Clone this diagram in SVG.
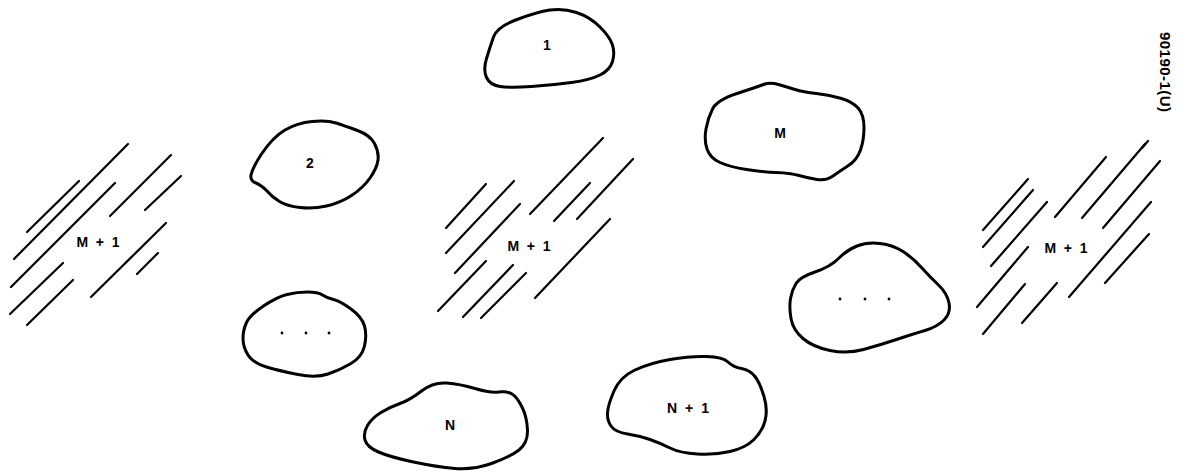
<svg xmlns="http://www.w3.org/2000/svg" width="1183" height="475" viewBox="0 0 1183 475">
<style>
.blob{fill:none;stroke:#000;stroke-width:3;stroke-linejoin:round}
.hatch line{stroke:#000;stroke-width:2.2;stroke-linecap:round}
.lbl{font-family:"Liberation Sans",Arial,sans-serif;font-weight:bold;font-size:14px;fill:#000;text-anchor:middle}
.dot{fill:#000}
</style>
<rect width="1183" height="475" fill="#fff"/>
<g id="region-left">
<g class="hatch">
<line x1="128" y1="144" x2="14" y2="259"/>
<line x1="79" y1="181" x2="27" y2="232"/>
<line x1="115" y1="183" x2="11" y2="287"/>
<line x1="171" y1="155" x2="110" y2="216"/>
<line x1="181" y1="176" x2="145" y2="210"/>
<line x1="166" y1="223" x2="91" y2="297"/>
<line x1="63" y1="263" x2="10" y2="314"/>
<line x1="73" y1="280" x2="27" y2="325"/>
<line x1="158" y1="253" x2="137" y2="274"/>
</g>
<text class="lbl" x="98" y="247" textLength="43" lengthAdjust="spacing">M + 1</text>
</g>
<g id="region-middle">
<g class="hatch">
<line x1="486" y1="184" x2="446" y2="228"/>
<line x1="514" y1="181" x2="446" y2="253"/>
<line x1="520" y1="204" x2="455" y2="273"/>
<line x1="603" y1="138" x2="530" y2="214"/>
<line x1="590" y1="183" x2="554" y2="221"/>
<line x1="633" y1="159" x2="577" y2="219"/>
<line x1="486" y1="261" x2="438" y2="311"/>
<line x1="513" y1="265" x2="463" y2="317"/>
<line x1="526" y1="273" x2="481" y2="318"/>
<line x1="610" y1="219" x2="535" y2="298"/>
</g>
<text class="lbl" x="529" y="251" textLength="43" lengthAdjust="spacing">M + 1</text>
</g>
<g id="region-right">
<g class="hatch">
<line x1="1028" y1="179" x2="983" y2="230"/>
<line x1="1033" y1="190" x2="983" y2="247"/>
<line x1="1047" y1="202" x2="991" y2="266"/>
<line x1="1106" y1="157" x2="1055" y2="217"/>
<line x1="1145" y1="144" x2="1082" y2="218"/>
<line x1="1160" y1="161" x2="1103" y2="228"/>
<line x1="1151" y1="202" x2="1069" y2="297"/>
<line x1="1149" y1="234" x2="1105" y2="283"/>
<line x1="1028" y1="247" x2="977" y2="307"/>
<line x1="1025" y1="284" x2="983" y2="334"/>
<line x1="1057" y1="283" x2="1022" y2="323"/>
<line x1="1142" y1="148" x2="1148" y2="141"/>
</g>
<text class="lbl" x="1066" y="253" textLength="43" lengthAdjust="spacing">M + 1</text>
</g>
<g id="node-1">
<path class="blob" d="M493.5,37 Q497,27 517,19.5 Q537,12 550,10 Q563,8 576.5,12.5 Q590,17 600,27 Q610,37 612.5,45 Q615,53 612.5,61.5 Q610,70 600,75 Q590,80 571.5,82.5 Q553,85 531.5,86.5 Q510,88 500,86.5 Q490,85 486.5,77.5 Q483,70 486.5,58.5 Q490,47 493.5,37 Z"/>
<text class="lbl" x="547" y="50">1</text>
</g>
<g id="node-2">
<path class="blob" d="M261.5,154 Q273,137 285,130 Q297,123 312,121.5 Q327,120 336,123 Q345,126 357.5,130.5 Q370,135 374.5,143.5 Q379,152 378,160 Q377,168 370,178 Q363,188 351.5,195.5 Q340,203 326.5,206 Q313,209 300,207.5 Q287,206 279.5,201.5 Q272,197 267,191 Q261,185 256,183 Q250,181 251,175 Q253,167 261.5,154 Z"/>
<text class="lbl" x="310" y="168">2</text>
</g>
<g id="node-M">
<path class="blob" d="M712.5,109 Q717,100 737,93.5 Q757,87 763.5,84.5 Q770,82 778.5,84.5 Q787,87 795,89.5 Q803,92 816.5,93.5 Q830,95 841.5,98.5 Q853,102 858.5,108.5 Q864,115 864,127.5 Q864,140 860.5,150 Q857,160 848.5,165.5 Q840,171 833,176 Q826,181 817,179.5 Q808,178 799,175.5 Q790,173 776.5,172.5 Q763,172 746.5,169.5 Q730,167 720,162.5 Q710,158 707,149 Q704,140 706,129 Q708,118 712.5,109 Z"/>
<text class="lbl" x="780" y="138">M</text>
</g>
<g id="node-dots-left">
<path class="blob" d="M246.5,322.5 Q250,315 263.5,306 Q277,297 287,294.5 Q297,292 307.5,292 Q318,292 322.5,295 Q327,298 333.5,299.5 Q340,301 351,309 Q362,317 364.5,326 Q367,335 364.5,346 Q362,357 351,363.5 Q340,370 328,374 Q316,378 298,374.5 Q280,371 266.5,367 Q253,363 248,355 Q243,347 243,338.5 Q243,330 246.5,322.5 Z"/>
<circle class="dot" cx="282" cy="333" r="1.4"/>
<circle class="dot" cx="306" cy="333" r="1.4"/>
<circle class="dot" cx="329" cy="333" r="1.4"/>
</g>
<g id="node-dots-right">
<path class="blob" d="M796,283.5 Q800,277 815,272 Q830,267 838.5,258.5 Q847,250 857,246 Q867,242 880,243.5 Q893,245 903,251.5 Q913,258 921.5,267.5 Q930,277 938.5,285 Q947,293 949,303 Q951,313 944,320 Q937,327 925,330.5 Q913,334 896.5,339.5 Q880,345 863.5,349.5 Q847,354 830,350.5 Q813,347 803,338.5 Q793,330 791,318.5 Q789,307 790.5,298.5 Q792,290 796,283.5 Z"/>
<circle class="dot" cx="840" cy="299" r="1.4"/>
<circle class="dot" cx="865" cy="299" r="1.4"/>
<circle class="dot" cx="889" cy="299" r="1.4"/>
</g>
<g id="node-N">
<path class="blob" d="M367.5,425.5 Q372,418 381,412.5 Q390,407 400,403.5 Q410,400 421.5,391 Q433,382 446.5,383 Q460,384 475,388.5 Q490,393 498.5,392 Q507,391 512,394 Q517,397 522,407 Q527,417 527.5,430 Q528,443 519,450 Q510,457 491.5,463.5 Q473,470 455,468.5 Q437,467 413.5,462 Q390,457 378.5,452 Q367,447 365,440 Q363,433 367.5,425.5 Z"/>
<text class="lbl" x="450" y="430">N</text>
</g>
<g id="node-N1">
<path class="blob" d="M614,391 Q620,377 635,370 Q650,363 670,359.5 Q690,356 706.5,356.5 Q723,357 728,362 Q733,367 741.5,368.5 Q750,370 755,376.5 Q760,383 764,396.5 Q768,410 765,421 Q762,432 753.5,440 Q745,448 730,451.5 Q715,455 697.5,454 Q680,453 670,448 Q660,443 650,439.5 Q640,436 627.5,434 Q615,432 611,426 Q607,420 607.5,412.5 Q608,405 614,391 Z"/>
<text class="lbl" x="688" y="413" textLength="42" lengthAdjust="spacing">N + 1</text>
</g>
<g id="connectors"/>
<text class="lbl" transform="translate(1165,72) rotate(90)" dy="0.35em" style="font-size:15px" textLength="80" lengthAdjust="spacing">90190-1(U)</text>
</svg>
